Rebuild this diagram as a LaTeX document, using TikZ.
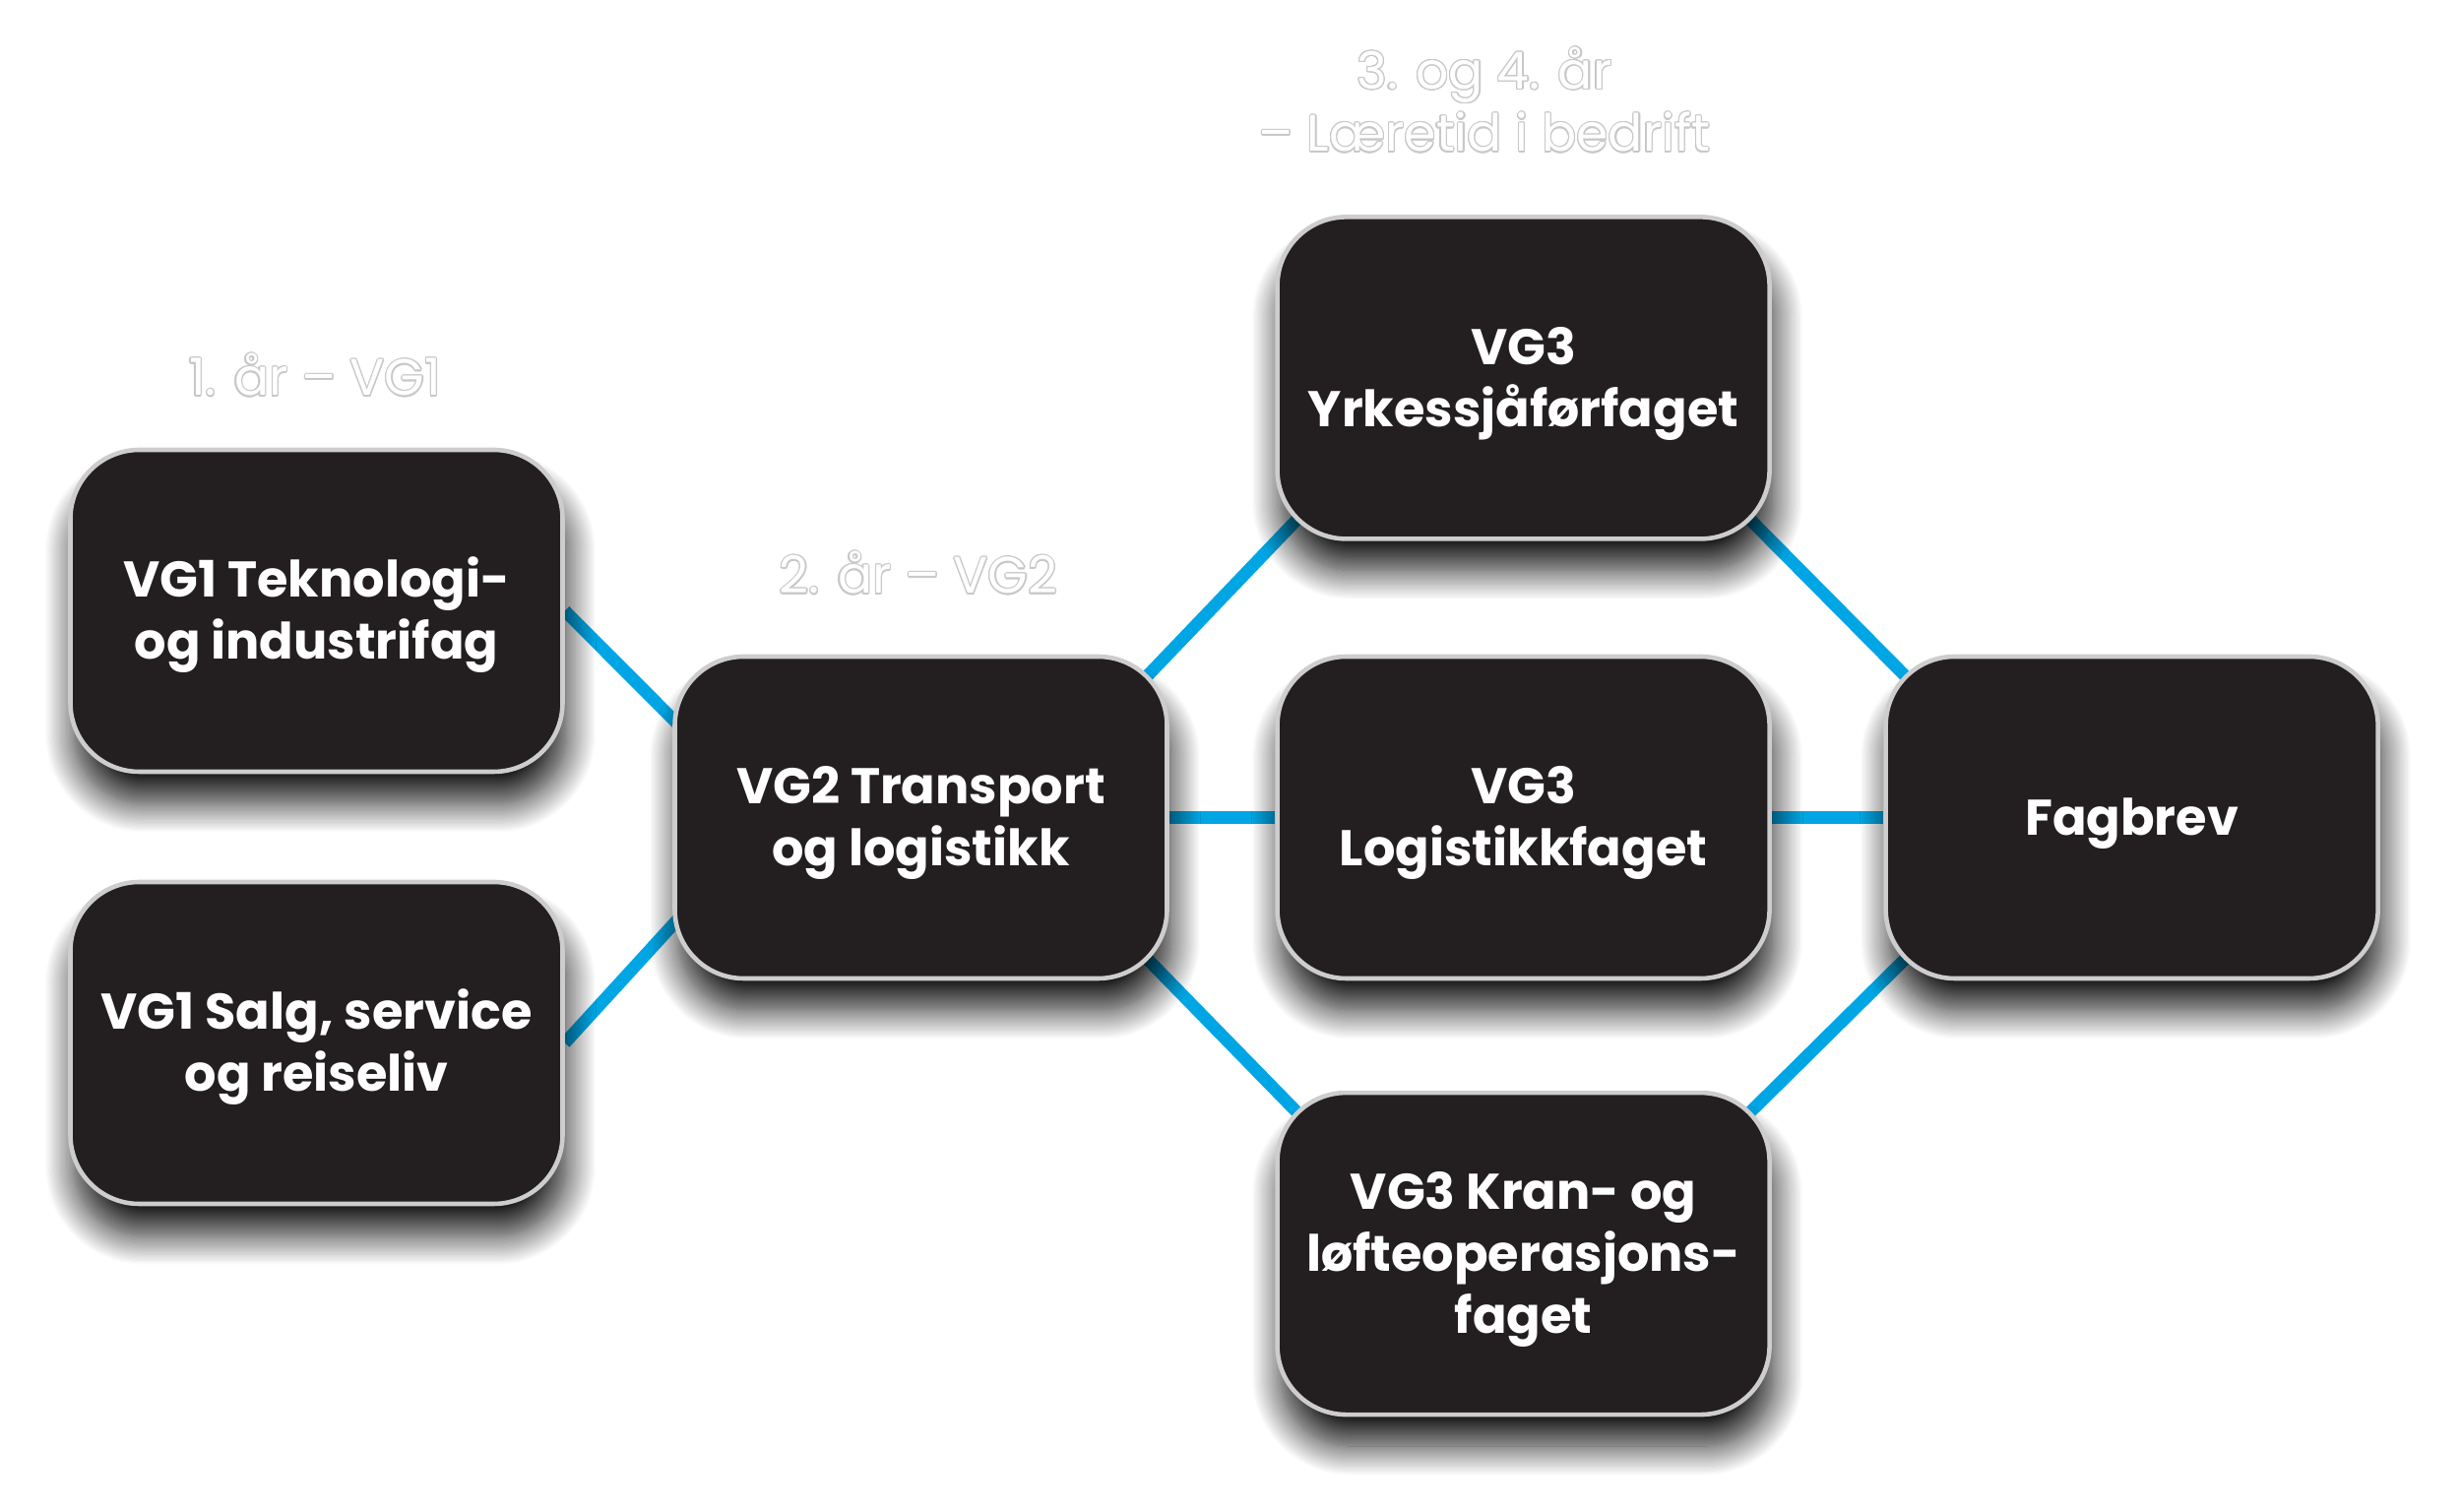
\documentclass[tikz,border=0pt]{standalone}
\usepackage{fontspec}
\setmainfont{Poppins}
\usepackage{xcolor}
\usepackage{contour}
\usetikzlibrary{positioning,backgrounds,shadows.blur}

\definecolor{boxblack}{RGB}{35,31,32}
\definecolor{boxedge}{RGB}{205,205,205}
\definecolor{linkblue}{RGB}{0,166,228}
\definecolor{yearedge}{RGB}{200,200,200}

\contourlength{0.35pt}
\newcommand{\yeartext}[1]{\contour{yearedge}{#1}}

\begin{document}
\begin{tikzpicture}[node distance=1.1cm, thick,
  box/.style={rectangle, rounded corners=0.7cm, draw=boxedge, line width=1.3pt, fill=boxblack, text=white,
    minimum width=5cm, minimum height=3.27cm, align=center, font=\bfseries\fontsize{14.5}{18}\selectfont,
    text height=0.99cm, text depth=0pt,
    blur shadow={shadow xshift=0.04cm, shadow yshift=-0.32cm, shadow blur radius=0.3cm, shadow opacity=90, shadow blur steps=24}},
  link/.style={draw=linkblue, line width=3.6pt},
  yearlabel/.style={anchor=base, align=center, text=white, font=\fontsize{14.8}{18}\selectfont}]

    \useasboundingbox (0,0) rectangle (25,15.36);

    \node[box] (vg2) at (9.355,7.055) {VG2 Transport\\og logistikk};
    \node[box] (tek) at (3.215,9.155) {VG1 Teknologi-\\og industrifag};
    \node[box] (salg) at (3.215,4.765) {VG1 Salg, service\\og reiseliv};
    \node[box] (log) [right=1.075cm of vg2] {VG3\\Logistikkfaget};
    \node[box] (yrk) [above=1.15cm of log] {VG3\\Yrkessjåførfaget};
    \node[box, text height=1.625cm] (kran) [below=1.115cm of log] {VG3 Kran- og\\løfteoperasjons-\\faget};
    \node[box, text height=0.356cm] (fag) [right=1.135cm of log] {Fagbrev};

    \node[yearlabel] (ar1) at (3.2,11.34) {\yeartext{1. år – VG1}};
    \node[yearlabel] (ar2) at (9.33,9.33) {\yeartext{2. år – VG2}};
    \node[yearlabel] (ar3) at (15.08,13.82) {\yeartext{3. og 4. år}\\\yeartext{– Læretid i bedrift}};

    \begin{pgfonlayer}{background}
        \draw[link] (tek.east) to ([xshift=1cm]vg2.west);
        \draw[link] (salg.east) to ([xshift=1cm]vg2.west);
        \draw[link] (vg2) to (log);
        \draw[link] (log) to (fag);
        \draw[link] ([shift={(-0.3,-0.3)}]vg2.north east) to ([shift={(0.3,0.3)}]yrk.south west);
        \draw[link] ([shift={(-0.3,0.3)}]vg2.south east) to ([shift={(0.3,-0.3)}]kran.north west);
        \draw[link] ([shift={(-0.3,0.3)}]yrk.south east) to ([shift={(0.3,-0.3)}]fag.north west);
        \draw[link] ([shift={(-0.3,-0.3)}]kran.north east) to ([shift={(0.3,0.3)}]fag.south west);
    \end{pgfonlayer}

\end{tikzpicture}
\end{document}
